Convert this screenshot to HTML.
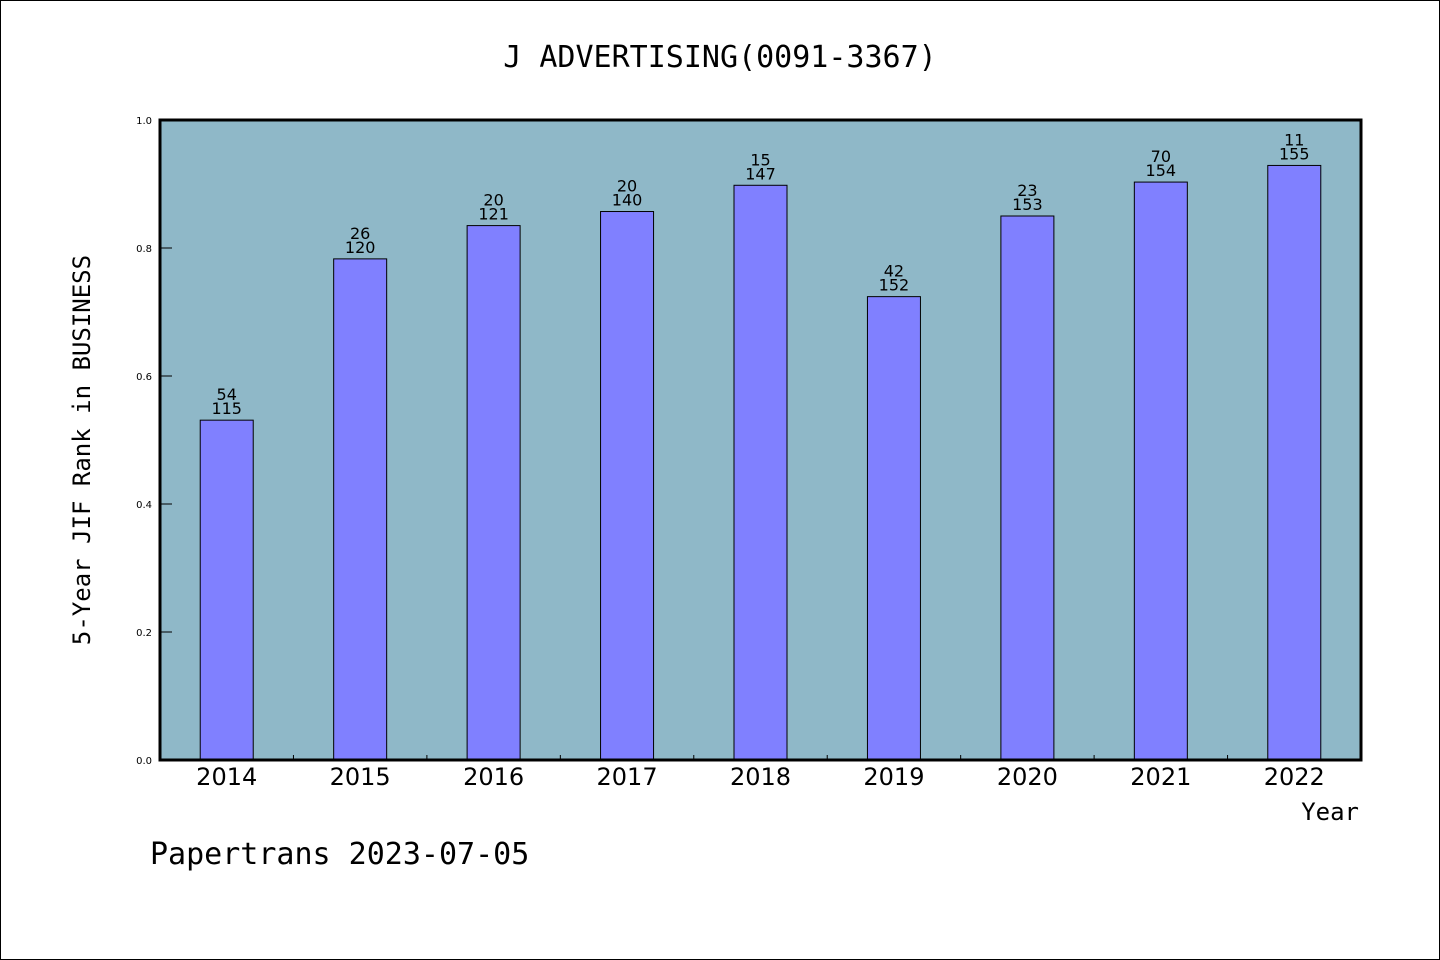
<!DOCTYPE html>
<html><head><meta charset="utf-8"><style>
html,body{margin:0;padding:0;background:#fff;}
svg{display:block;}
</style></head><body>
<svg width="1440" height="960" xmlns="http://www.w3.org/2000/svg">
<rect x="0.5" y="0.5" width="1439" height="959" fill="#fff" stroke="#000"/>
<text x="720" y="67" text-anchor="middle" font-family="DejaVu Sans Mono, Liberation Mono, monospace" font-size="30">J ADVERTISING(0091-3367)</text>
<rect x="160" y="120" width="1201" height="640" fill="#8fb8c8"/>
<g id="marks"></g>
<rect x="160" y="120" width="1201" height="640" fill="none" stroke="#000" stroke-width="3"/>
<text x="90" y="450" text-anchor="middle" transform="rotate(-90 90 450)" font-family="DejaVu Sans Mono, Liberation Mono, monospace" font-size="24">5-Year JIF Rank in BUSINESS</text>
<text x="1359" y="820" text-anchor="end" font-family="DejaVu Sans Mono, Liberation Mono, monospace" font-size="24">Year</text>
<text x="150" y="864" font-family="DejaVu Sans Mono, Liberation Mono, monospace" font-size="30">Papertrans 2023-07-05</text>
</svg>
<script>
const categories = ["2014","2015","2016","2017","2018","2019","2020","2021","2022"];
const values = [0.531, 0.783, 0.835, 0.857, 0.898, 0.724, 0.850, 0.903, 0.929];
const ranks = ["54","26","20","20","15","42","23","70","11"];
const totals = ["115","120","121","140","147","152","153","154","155"];
const yTicks = [0, 0.2, 0.4, 0.6, 0.8, 1.0];
const yTickLabels = ["0.0","0.2","0.4","0.6","0.8","1.0"];

const NS = "http://www.w3.org/2000/svg";
const L = 160, R = 1361, T = 120, B = 760;
const step = (R - L) / categories.length;
const xc = i => L + step * (i + 0.5);
const y = v => B - (v - 0) / (1 - 0) * (B - T);
const g = document.getElementById("marks");
function mk(tag, attrs, text) {
  const e = document.createElementNS(NS, tag);
  for (const k in attrs) e.setAttribute(k, attrs[k]);
  if (text !== undefined) e.textContent = text;
  g.appendChild(e);
  return e;
}
const bw = 53;
categories.forEach((c, i) => {
  const top = y(values[i]);
  const b = mk("rect", {x: xc(i) - bw/2, y: top, width: bw, height: B - top, fill: "#8080ff", stroke: "#000", "stroke-width": 1});
  
  
  const t1 = mk("text", {x: xc(i), y: top - 20, "text-anchor": "middle", "font-family": "DejaVu Sans, Liberation Sans, sans-serif", "font-size": 16}, ranks[i]);
  
  
  const t2 = mk("text", {x: xc(i), y: top - 6, "text-anchor": "middle", "font-family": "DejaVu Sans, Liberation Sans, sans-serif", "font-size": 16}, totals[i]);
  
  
  const xl = mk("text", {x: xc(i), y: 785, "text-anchor": "middle", "font-family": "DejaVu Sans, Liberation Sans, sans-serif", "font-size": 24}, c);
  
  
  if (i > 0) {
    const tk = mk("line", {x1: L + step*i, x2: L + step*i, y1: B, y2: B - 5, stroke: "#000", "stroke-width": 1});
    
    
  }
});
yTicks.forEach((v, i) => {
  const ln = mk("line", {x1: L, x2: L + 12, y1: y(v), y2: y(v), stroke: "#000", "stroke-width": 1});
  
  
  const tl = mk("text", {x: 152, y: y(v) + 4, "text-anchor": "end", "font-family": "DejaVu Sans, Liberation Sans, sans-serif", "font-size": 10}, yTickLabels[i]);
  
  
});
</script>
</body></html>
